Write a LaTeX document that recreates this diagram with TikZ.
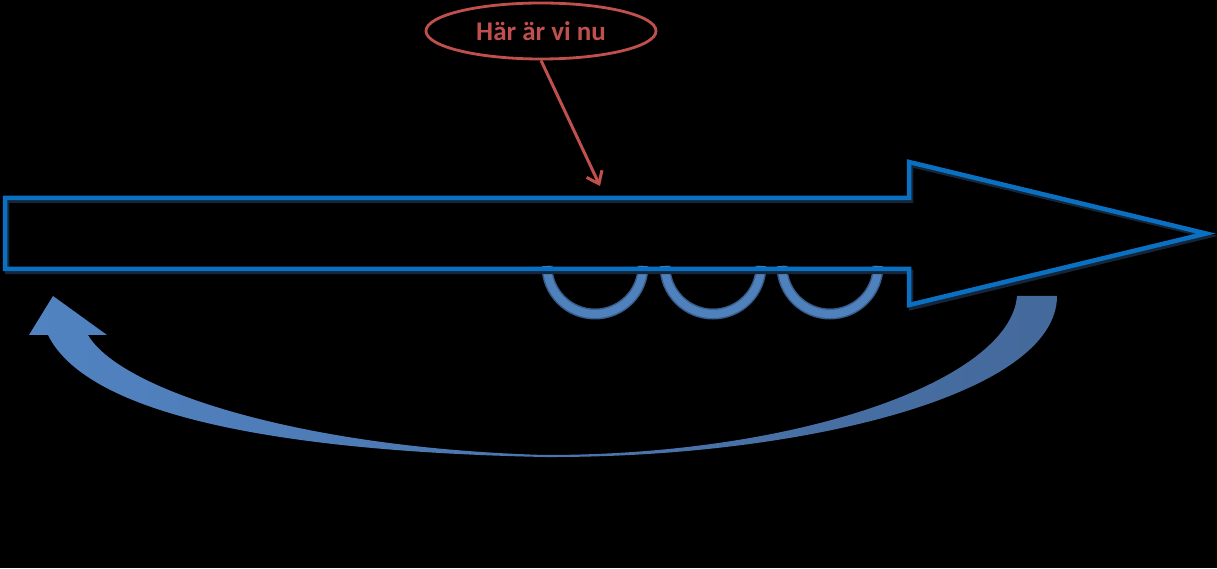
\documentclass[tikz,border=0pt]{standalone}
\usepackage{fontspec}
\setmainfont{Carlito}
\usetikzlibrary{shapes.geometric,arrows.meta}
\definecolor{mainblue}{HTML}{0A70C2}
\definecolor{shadowblue}{HTML}{16263A}
\definecolor{ringfill}{HTML}{4F81BD}
\definecolor{ringedge}{HTML}{385D8A}
\definecolor{redc}{HTML}{C0504D}
\definecolor{curvL}{HTML}{5183C1}
\definecolor{curvR}{HTML}{44699B}
\tikzset{
  mainarrow/.style={draw=mainblue, line width=4.5, line join=miter},
  arrowshadow/.style={draw=shadowblue, line width=4.5, line join=miter},
  bubble/.style={ellipse, draw=redc, line width=2.8, minimum width=230, minimum height=56, inner sep=0pt,
    text=redc, font=\fontsize{27}{30}\selectfont\bfseries},
  pointer/.style={draw=redc, line width=3, -{Straight Barb[length=11pt,width=17pt,line width=3pt]}}
}
\begin{document}
\begin{tikzpicture}[x=1pt,y=1pt]
\fill[black] (0,0) rectangle (1217,568);
\useasboundingbox (0,0) rectangle (1217,568);
% curved return arrow
\shade[left color=curvL, right color=curvR]
  (1057,272) -- (1017,272) .. controls (1010,188) and (800,113) .. (545,113)
  .. controls (300,120) and (120,178) .. (88,233) -- (107,233) -- (53,272) -- (29,233) -- (48,233)
  .. controls (90,148) and (300,116) .. (545,111)
  .. controls (800,110) and (1057,173) .. (1057,272) -- cycle;
% half rings
\foreach \cx in {595,713,830}{
  \draw[ringedge, line width=11] ({\cx-48},302) arc[start angle=180, end angle=360, radius=48];
  \draw[ringfill, line width=8] ({\cx-48},302) arc[start angle=180, end angle=360, radius=48];
}
% main arrow shadow and outline
\draw[arrowshadow] (7,367) -- (911,367) -- (911,403) -- (1208,332) -- (911,260) -- (911,296) -- (7,296) -- cycle;
\draw[mainarrow] (5,370) -- (909,370) -- (909,406) -- (1206,334.5) -- (909,263) -- (909,299) -- (5,299) -- cycle;
% label
\node[bubble] (label) at (541,537) {Här är vi nu};
\coordinate (target) at (600,382);
\draw[pointer] (label.south) -- (target);
\end{tikzpicture}
\end{document}
